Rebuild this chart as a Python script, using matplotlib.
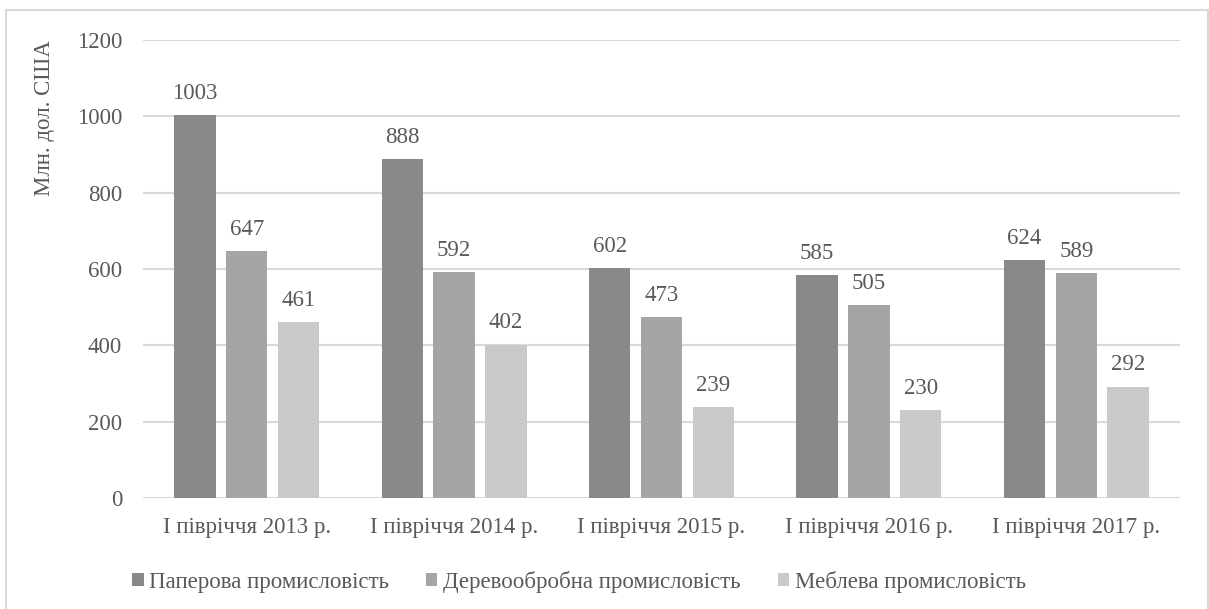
import numpy as np
import matplotlib.pyplot as plt
from matplotlib.patches import Rectangle

plt.rcParams['font.family'] = 'serif'
plt.rcParams['font.serif'] = ['Liberation Serif', 'DejaVu Serif']
FONT = 'Liberation Serif'
FS = 16.5

# дані
periods = ['I півріччя 2013 р.', 'I півріччя 2014 р.', 'I півріччя 2015 р.',
           'I півріччя 2016 р.', 'I півріччя 2017 р.']
paper = [1003, 888, 602, 585, 624]
wood = [647, 592, 473, 505, 589]
furniture = [461, 402, 239, 230, 292]
series_names = ['Паперова промисловість', 'Деревообробна промисловість',
                'Меблева промисловість']
colors = ['#898989', '#a5a5a5', '#c9c9c9']
text_color = '#595959'

fig = plt.figure(figsize=(12.09, 6.09), dpi=100)
ax = fig.add_axes([143 / 1209, 1 - 498 / 609, (1180 - 143) / 1209, (498 - 40) / 609])

x = np.arange(len(periods))
width = 0.2
step = 0.25
handles = []
for i, (vals, name, col) in enumerate(zip([paper, wood, furniture], series_names, colors)):
    bars = ax.bar(x + (i - 1) * step, vals, width, color=col, label=name, zorder=3)
    handles.append(bars)
    for b, v in zip(bars, vals):
        ax.annotate(str(v), (b.get_x() + b.get_width() / 2, v), xytext=(0, 8),
                    textcoords='offset points', ha='center', va='bottom',
                    fontsize=FS, color=text_color, family=FONT)

ax.set_xlim(-0.5, len(periods) - 0.5)
ax.set_ylim(0, 1200)
ax.set_yticks(range(0, 1201, 200))
ax.set_xticks(x)
ax.set_xticklabels(periods)
ax.yaxis.grid(True, color='#d9d9d9', lw=1.5, zorder=0)
ax.set_axisbelow(True)
for s in ax.spines.values():
    s.set_visible(False)
ax.tick_params(axis='both', length=0, labelsize=FS, labelcolor=text_color)
ax.tick_params(axis='y', pad=15)
ax.tick_params(axis='x', pad=14)
for lbl in ax.get_xticklabels() + ax.get_yticklabels():
    lbl.set_family(FONT)

fig.text(45 / 1209, 1 - 118 / 609, 'Млн. дол. США', rotation=90, ha='center',
         va='center', fontsize=FS, color=text_color, family=FONT)

leg = fig.legend(handles=handles, labels=series_names, loc='center',
                 bbox_to_anchor=(579 / 1209, 1 - 582 / 609), ncol=3, frameon=False,
                 prop={'family': FONT, 'size': FS},
                 handlelength=0.5, handleheight=0.5,
                 handletextpad=0.25, columnspacing=1.6)
for t in leg.get_texts():
    t.set_color(text_color)

fig.patches.append(Rectangle((6 / 1209, -0.01), 1202 / 1209, 1.01 - 10 / 609,
                             transform=fig.transFigure, fill=False,
                             edgecolor='#d9d9d9', lw=1.5))

fig.savefig('out.png', dpi=100)
